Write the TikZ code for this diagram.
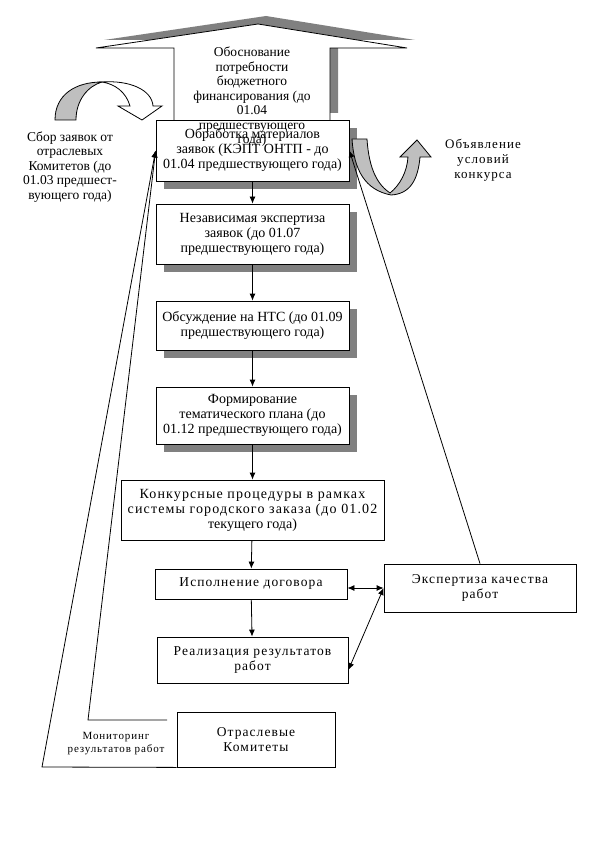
\documentclass[tikz,border=0pt]{standalone}
\usepackage{fontspec}
\setmainfont{Liberation Serif}
\newfontfamily\razr[LetterSpace=8]{Liberation Serif}
\usetikzlibrary{shapes,shadows,arrows.meta}

\tikzset{
	blok/.style={rectangle,draw,fill=white,align=center,inner sep=2pt,font=\fontsize{14}{15}\selectfont},
	blokrazr/.style={blok,font=\fontsize{13.5}{15}\razr},
	blokten/.style={blok,drop shadow={shadow xshift=8pt,shadow yshift=-8pt,fill=black!50,opacity=1}},
	metka/.style={align=center,font=\fontsize{13.5}{14.5}\selectfont},
}

\begin{document}
\begin{tikzpicture}[x=1pt,y=-1pt,line width=0.8pt,>={Latex[length=7pt,width=6pt]}]
	\useasboundingbox (0,0) rectangle (613,842);

		% big arrow up
		\fill[black!50] (182,113) -- (182,40) -- (104,40) -- (266,16) -- (415,40) -- (338,40) -- (338,113) -- cycle;
		\draw[fill=white] (174,121) -- (174,48) -- (96,48) -- (258,24) -- (407,48) -- (330,48) -- (330,121) -- cycle;

		\node[blokten,minimum width=193pt,minimum height=61pt] (obrab) at (252.5,150.5) {Обработка материалов\\заявок (КЭПТ ОНТП - до\\01.04 предшествующего года)};
		\node[blokten,minimum width=193pt,minimum height=60pt] (nezav) at (252.5,234) {Независимая экспертиза\\заявок (до 01.07\\предшествующего года)};
		\node[blokten,minimum width=193pt,minimum height=49pt] (obsuzh) at (252.5,325.5) {Обсуждение на НТС (до 01.09\\предшествующего года)};
		\node[blokten,minimum width=193pt,minimum height=57pt] (form) at (252.5,415.5) {Формирование\\тематического плана (до\\01.12 предшествующего года)};
		\node[blok,minimum width=263pt,minimum height=60pt] (konk) at (252.5,510) {{\razr Конкурсные процедуры в рамках}\\{\razr системы городского заказа (до 01.02}\\текущего года)};
		\node[blokrazr,minimum width=192pt,minimum height=30pt] (ispoln) at (251,584) {Исполнение договора};
		\node[blokrazr,minimum width=191pt,minimum height=46pt] (realiz) at (252.5,660) {Реализация результатов\\работ};
		\node[blokrazr,minimum width=192pt,minimum height=48pt] (ekspert) at (480,588) {Экспертиза качества\\работ};
		\node[blokrazr,minimum width=158pt,minimum height=55pt] (otrasl) at (256,739.5) {Отраслевые\\Комитеты};

		\node[metka] (obosn) at (252,97) {Обоснование\\потребности\\бюджетного\\финансирования (до\\01.04\\предшествующего\\года)};
		\node[metka] (sbor) at (70,167) {Сбор заявок от\\отраслевых\\Комитетов (до\\01.03 предшест-\\вующего года)};
		\node[metka,font=\fontsize{13}{15}\razr] (obyavl) at (483,160) {Объявление\\условий\\конкурса};
		\node[metka,font=\fontsize{11}{13}\razr] (monit) at (116,744) {Мониторинг\\результатов работ};

		% curved arrows
		\draw[fill=black!25] (55,120) .. controls (55,95) and (75,82) .. (102,82)
			.. controls (88,86) and (76,100) .. (76,120) -- cycle;
		\draw[fill=white] (102,82) .. controls (130,80) and (152,90) .. (153,106) -- (162,106) -- (142,120)
			-- (118,106) -- (130,106) .. controls (126,92) and (115,84) .. (102,82) -- cycle;
		\draw[fill=black!25] (352,139) -- (367,139) .. controls (369,170) and (378,185) .. (390,193)
			.. controls (400,185) and (407,172) .. (408,157) -- (400,157) -- (417,140) -- (431,157)
			-- (420,157) .. controls (418,180) and (410,194) .. (391,195)
			.. controls (365,190) and (354,170) .. (352,139) -- cycle;

		\path[->] (obrab) edge (nezav);
		\path[->] (nezav) edge (obsuzh);
		\path[->] (obsuzh) edge (form);
		\path[->] (form) edge (konk);
		\path[->] (konk) edge (ispoln);
		\path[->] (ispoln) edge (realiz);

		\path[<->] (ispoln.east |- ekspert.west) edge (ekspert.west);
		\path[<->] ([yshift=-10pt]realiz.east) edge (ekspert.west);

		\coordinate (ugol) at (42,767);
		\coordinate (monA) at (167,720);
		\coordinate (monB) at (88,720);
		\draw[->] (otrasl.south west) -- (ugol) -- (obrab.west);
		\draw[->] (monA) -- (monB) -- (obrab.west);
		\draw[->] (ekspert.north) -- (obrab.east);

	\end{tikzpicture}
\end{document}
